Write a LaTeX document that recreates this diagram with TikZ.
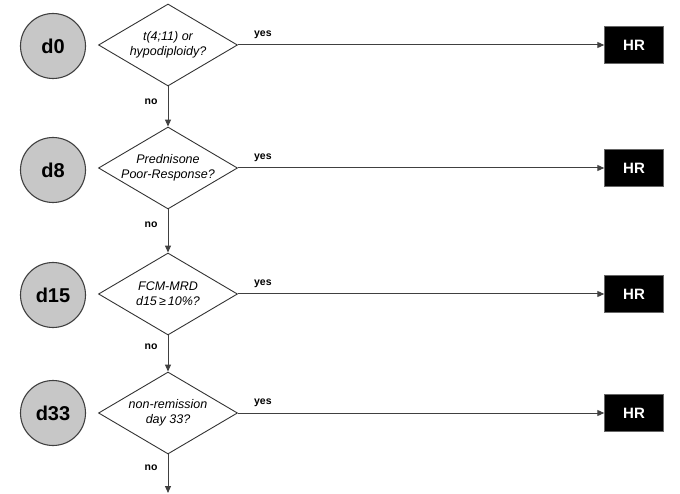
\documentclass[tikz,border=0pt]{standalone}
\usepackage{fontspec}
\setmainfont{Liberation Sans}
\usetikzlibrary{shapes.geometric,arrows.meta}
\begin{document}
\begin{tikzpicture}[x=1pt,y=-1pt,
  daynode/.style={circle,draw=black!75,line width=1.1pt,fill=black!22,minimum size=65pt,inner sep=0pt,font=\fontsize{20}{20}\selectfont\bfseries},
  question/.style={diamond,draw=black!80,line width=0.9pt,minimum width=139pt,minimum height=82pt,inner sep=0pt},
  qtext/.style={align=center,inner sep=0pt,font=\fontsize{12.5}{15}\selectfont\itshape},
  hrbox/.style={rectangle,fill=black,draw=black!60,minimum width=59pt,minimum height=37pt,inner sep=0pt,text=white,font=\fontsize{15}{15}\selectfont\bfseries},
  conn/.style={draw=black!75,line width=1pt,-{Triangle[length=7pt,width=6pt]}},
  lbl/.style={font=\fontsize{10.5}{11}\selectfont\bfseries,inner sep=0pt}
]
\useasboundingbox (0,0) rectangle (680,494);
\node[daynode] (c0) at (53,46) {d0};
\node[daynode] (c1) at (53,170) {d8};
\node[daynode] (c2) at (53,295) {d15};
\node[daynode] (c3) at (53,413) {d33};
\node[question] (q0) at (168,45) {};
\node[question] (q1) at (168,168) {};
\node[question] (q2) at (168,294) {};
\node[question] (q3) at (168,413) {};
\node[qtext] (t0) at (168,45) {t(4;11) or\\hypodiploidy?};
\node[qtext] (t1) at (168,168) {Prednisone\\Poor-Response?};
\node[qtext] (t2) at (168,294) {FCM-MRD\\d15\,≥\,10\%?};
\node[qtext] (t3) at (168,413) {non-remission\\day 33?};
\node[hrbox] (h0) at (634,45) {HR};
\node[hrbox] (h1) at (634,168) {HR};
\node[hrbox] (h2) at (634,294) {HR};
\node[hrbox] (h3) at (634,413) {HR};
\coordinate (end) at (168,493);
\foreach \i in {0,1,2,3}{
  \draw[conn] (q\i.east) -- (h\i.west);
  \node[lbl,anchor=west] at ([xshift=16pt,yshift=10pt]q\i.east) {yes};
}
\draw[conn] (q0.south) -- (q1.north);
\draw[conn] (q1.south) -- (q2.north);
\draw[conn] (q2.south) -- (q3.north);
\draw[conn] (q3.south) -- (end);
\node[lbl] at (151,102) {no};
\node[lbl] at (151,225) {no};
\node[lbl] at (151,347) {no};
\node[lbl] at (151,468) {no};
\end{tikzpicture}
\end{document}
